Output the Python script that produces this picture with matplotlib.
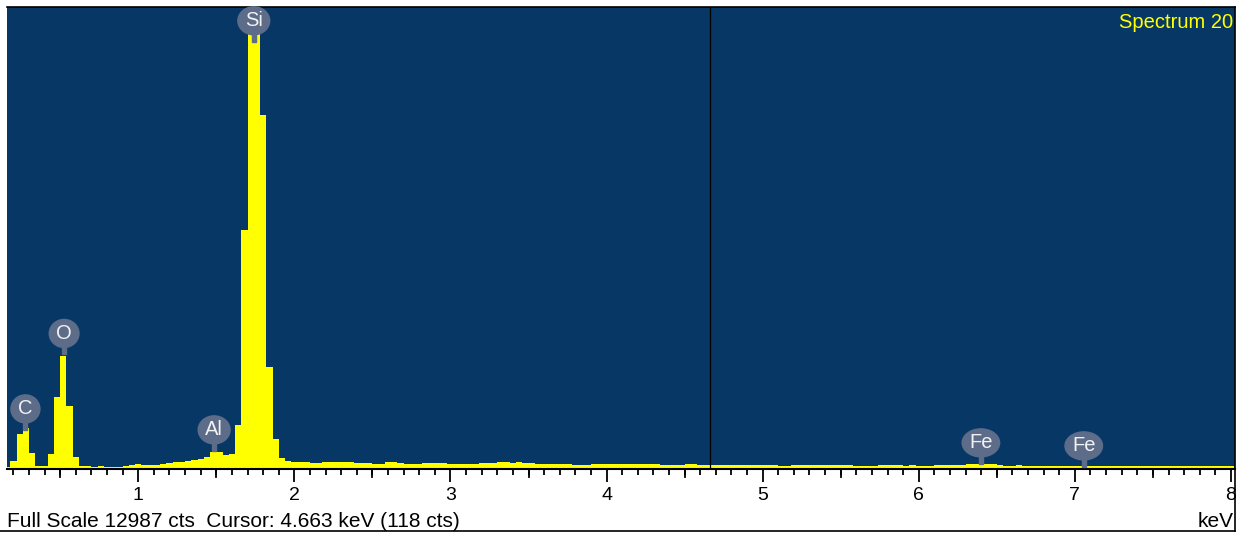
import matplotlib
matplotlib.use('Agg')
import matplotlib.pyplot as plt
from matplotlib.patches import Ellipse, Rectangle
from matplotlib.lines import Line2D
from matplotlib.transforms import ScaledTranslation, blended_transform_factory
import numpy as np

plt.rcParams['font.family'] = ['Liberation Sans', 'DejaVu Sans']

# EDS spectrum, 40 eV channels starting at 0.14 keV
channel_start = 0.14
channel_width = 0.04
counts = [
    55, 225, 980, 1140, 450, 75, 95, 430, 2030, 3190,
    1780, 340, 95, 80, 70, 80, 70, 50, 50, 75,
    100, 140, 120, 120, 125, 150, 180, 195, 195, 215,
    245, 280, 340, 480, 480, 395, 430, 1240, 6720, 12987,
    12987, 9940, 2860, 850, 320, 225, 200, 200, 200, 170,
    170, 200, 200, 200, 200, 200, 170, 170, 170, 130,
    130, 200, 200, 170, 130, 130, 130, 170, 170, 170,
    170, 150, 150, 150, 150, 150, 170, 170, 170, 200,
    200, 180, 200, 170, 170, 140, 140, 140, 140, 140,
    140, 110, 110, 110, 140, 140, 140, 150, 150, 150,
    150, 150, 135, 135, 135, 110, 110, 110, 110, 135,
    135, 110, 110, 118, 118, 118, 118, 118, 118, 118,
    118, 118, 118, 118, 95, 95, 110, 110, 110, 110,
    110, 110, 110, 110, 110, 110, 95, 95, 95, 95,
    105, 105, 105, 105, 85, 120, 85, 85, 85, 100,
    100, 100, 100, 100, 130, 150, 150, 150, 150, 110,
    85, 85, 100, 80, 80, 80, 80, 80, 80, 80,
    80, 80, 80, 80, 80, 80, 80, 80, 80, 80,
    80, 80, 80, 80, 80, 80, 80, 80, 80, 80,
    80, 80, 80, 80, 80, 80, 80,
]
full_scale = 12987
cursor_kev = 4.663
cursor_cts = 118
spectrum_name = 'Spectrum 20'

peak_names = ['C', 'O', 'Al', 'Si', 'Fe', 'Fe']
peak_kev = [0.277, 0.525, 1.486, 1.740, 6.398, 7.057]
label_cts = [1690, 3810, 1100, 12600, 735, 650]

major_ticks = [1, 2, 3, 4, 5, 6, 7, 8]

bg_color = '#073764'
bar_color = '#ffff00'
label_color = '#5d6c89'

W, H = 1243, 533
fig = plt.figure(figsize=(W / 100, H / 100), dpi=100)
ax = fig.add_axes([7 / W, 64 / H, 1228 / W, 462 / H])
ax.set_facecolor(bg_color)

edges = channel_start + channel_width * np.arange(len(counts) + 1)
ax.stairs(counts, edges, fill=True, color=bar_color, linewidth=0, zorder=2)

ax.set_xlim(0.159, 8.026)
ax.set_ylim(0, full_scale)

# cursor
ax.axvline(cursor_kev, color='black', lw=0.9, zorder=3)

# spines
ax.spines['left'].set_visible(False)
ax.spines['top'].set_linewidth(1.2)
ax.spines['right'].set_linewidth(1.2)
ax.spines['bottom'].set_linewidth(1.5)

# ticks
ax.set_yticks([])
ax.set_xticks(major_ticks)
ax.set_xticklabels([str(t) for t in major_ticks])
minor = [round(0.1 * i, 1) for i in range(2, 80) if i % 10 != 0]
ax.set_xticks(minor, minor=True)
ax.tick_params(axis='x', which='major', length=9, width=1.3, direction='out',
               labelsize=14, pad=4)
ax.tick_params(axis='x', which='minor', length=4.3, width=1.3, direction='out')
half = [t + 0.5 for t in range(0, 8)]
trans = blended_transform_factory(ax.transData, ax.transAxes)
for t in half:
    ax.add_line(Line2D([t, t], [0, -8 / 462], transform=trans, color='black',
                       lw=1.3, clip_on=False))

# element markers
for name, e, y in zip(peak_names, peak_kev, label_cts):
    txt = ax.text(e, y, name, color='#f2f2f2', fontsize=14.5, ha='center',
                  va='center', zorder=6)
    fig.canvas.draw()
    tw = txt.get_window_extent().width
    w_in = max(tw + 14, 29) / 100
    h_in = 0.28
    tr = fig.dpi_scale_trans + ScaledTranslation(e, y, ax.transData)
    ax.add_patch(Ellipse((0, 0), w_in, h_in, transform=tr, color=label_color,
                         zorder=5, clip_on=False))
    ax.add_patch(Rectangle((-0.02, -h_in / 2 - 0.07), 0.04, 0.075, transform=tr,
                           color=label_color, zorder=5, clip_on=False))

ax.text((1233 - 7) / 1228, (469 - 28) / 462, spectrum_name, color=bar_color,
        fontsize=14.5, ha='right', va='baseline', transform=ax.transAxes)

fig.text(7 / W, 1 - 527 / H,
         f'Full Scale {full_scale} cts  Cursor: {cursor_kev:.3f} keV ({cursor_cts} cts)',
         fontsize=15, ha='left', va='baseline')
fig.text(1234 / W, 1 - 527 / H, 'keV', fontsize=15, ha='right', va='baseline')

fig.add_artist(Line2D([0, 1235 / W], [1 - 531 / H] * 2, color='black', lw=1.2,
                      transform=fig.transFigure))
fig.add_artist(Line2D([1235 / W] * 2, [1 - 531 / H, 64 / H], color='black', lw=1.2,
                      transform=fig.transFigure))

fig.savefig('out.png', dpi=100)
